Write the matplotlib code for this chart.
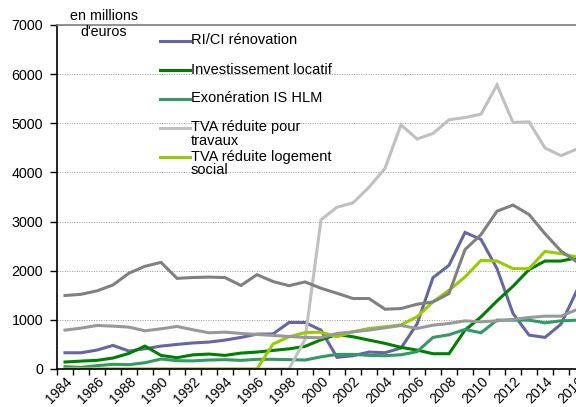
import numpy as np
import matplotlib
matplotlib.use("Agg")
import matplotlib.pyplot as plt
from matplotlib.ticker import FixedLocator

plt.rcParams['font.family'] = ['Liberation Sans', 'DejaVu Sans']

years = list(range(1984, 2017))

# en millions d'euros
ri_ci = [330, 330, 385, 480, 365, 412, 466, 500, 530, 548, 588, 643, 710, 713, 946, 946,
         791, 237, 270, 345, 331, 426, 913, 1860, 2110, 2779, 2637, 2042, 1130, 690, 643, 913, 1602]
invest_locatif = [142, 161, 176, 223, 318, 466, 277, 230, 288, 304, 277, 324, 345, 378, 410, 460,
                  595, 703, 656, 588, 521, 440, 385, 311, 311, 791, 1061, 1385, 1684, 2022, 2197, 2197, 2265]
exo_hlm = [47, 33, 68, 95, 88, 128, 203, 169, 165, 183, 190, 176, 197, 197, 190, 183,
           247, 297, 297, 277, 270, 290, 351, 643, 696, 805, 737, 994, 994, 994, 940, 980, 994]
tva_travaux = [0, 0, 0, 0, 0, 0, 0, 0, 0, 0, 0, 0, 0, 0, 0, 600,
               3036, 3292, 3381, 3698, 4083, 4970, 4680, 4793, 5071, 5118, 5186, 5781, 5016, 5030, 4497, 4341, 4477]
tva_social = [0, 0, 0, 0, 0, 0, 0, 0, 0, 0, 0, 0, 0, 507, 656, 740,
              750, 656, 757, 825, 859, 899, 1061, 1366, 1602, 1873, 2211, 2197, 2042, 2042, 2393, 2347, 2278]
gris_fonce = [1495, 1520, 1590, 1710, 1950, 2090, 2170, 1845, 1862, 1870, 1860, 1700, 1920, 1780, 1695, 1772,
              1643, 1541, 1434, 1434, 1217, 1230, 1318, 1365, 1535, 2430, 2735, 3211, 3336, 3144, 2752, 2400, 2177]
gris_clair = [791, 832, 886, 872, 852, 777, 818, 866, 798, 737, 750, 724, 703, 683, 662, 643,
              636, 724, 757, 791, 838, 886, 825, 892, 926, 980, 960, 980, 1008, 1048, 1075, 1075, 1211]

fig = plt.figure(figsize=(5.76, 4.07), dpi=100)
W, H = 576.0, 407.0
ax = fig.add_axes([57 / W, 1 - 369 / H, (585 - 57) / W, (369 - 25) / H])

series = [
    (ri_ci, '#6666A3', "RI/CI rénovation"),
    (invest_locatif, '#008000', "Investissement locatif"),
    (exo_hlm, '#339966', "Exonération IS HLM"),
    (tva_travaux, '#C0C0C0', "TVA réduite pour\ntravaux"),
    (tva_social, '#99CC00', "TVA réduite logement\nsocial"),
    (gris_clair, '#999999', None),
    (gris_fonce, '#808080', None),
]
for vals, col, lab in series:
    ax.plot(years, vals, color=col, lw=2.2, solid_joinstyle='miter')

ax.set_xlim(1983.5, 2016.5)
ax.set_ylim(0, 7000)

ax.set_yticks(np.arange(0, 7001, 1000))
ax.yaxis.grid(True, color='#999999', linestyle=(0, (1, 1.5)), linewidth=0.7)
ax.set_axisbelow(True)
ax.tick_params(axis='y', direction='out', length=5, width=1, pad=5, labelsize=10.3)

ax.set_xticks(years[::2])
ax.set_xticklabels([str(y) for y in years[::2]], rotation=45, ha='right',
                   rotation_mode='anchor', fontsize=10)
ax.xaxis.set_minor_locator(FixedLocator(np.arange(1983.5, 2017, 1)))
ax.tick_params(axis='x', which='major', length=0, pad=4)
ax.tick_params(axis='x', which='minor', direction='out', length=4, width=1)

ax.spines['right'].set_visible(False)
ax.spines['top'].set_color('#808080')
ax.spines['top'].set_linewidth(1.2)
ax.spines['left'].set_linewidth(1.2)
ax.spines['bottom'].set_linewidth(1.2)

# unite
fig.text(104 / W, 1 - 24 / H, "en millions\nd'euros", ha='center', va='center',
         fontsize=10.3, linespacing=1.2)

# legende
leg_y = [41, 70, 99, 128, 157]
for (vals, col, lab), yp in zip(series[:5], leg_y):
    yf = 1 - yp / H
    fig.add_artist(plt.Line2D([160 / W, 190 / W], [yf, yf], color=col, lw=2.2))
    fig.text(191 / W, 1 - (yp - 7.5) / H, lab, ha='left', va='top', fontsize=10.5,
             linespacing=0.95)

fig.savefig("out.png", dpi=100)
